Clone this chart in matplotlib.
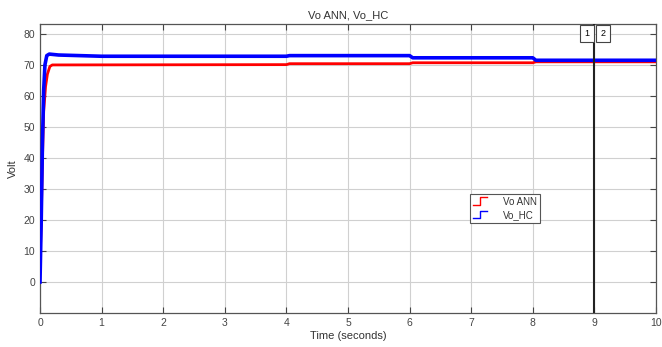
import matplotlib
matplotlib.use("Agg")
import matplotlib.pyplot as plt
from matplotlib.lines import Line2D
from matplotlib.legend_handler import HandlerBase

plt.rcParams['font.family'] = ['Liberation Sans Narrow', 'Liberation Sans', 'DejaVu Sans']

# Data
t_hc = [0, 0.02, 0.04, 0.06, 0.08, 0.11, 0.15, 0.3, 1.0, 4.0, 4.05, 6.0, 6.05, 8.0, 8.05, 10.0]
vo_hc = [0, 20, 45, 62, 70, 73, 73.5, 73.2, 72.8, 72.8, 73.0, 73.0, 72.3, 72.3, 71.5, 71.5]
t_ann = [0, 0.02, 0.04, 0.06, 0.09, 0.12, 0.16, 0.2, 4.0, 4.05, 6.0, 6.05, 8.0, 8.05, 10.0]
vo_ann = [5, 20, 40, 55, 63, 67, 69.5, 70, 70.1, 70.4, 70.4, 70.7, 70.7, 71.0, 71.0]
cursor_t = 9
xticks = list(range(0, 11))
yticks = list(range(0, 81, 10))

fig = plt.figure(figsize=(6.62, 3.47), dpi=100)
ax = fig.add_axes([40/662, 1-313/347, 616/662, 289/347])

ax.plot(t_ann, vo_ann, color='#ff0000', lw=2.0, label='Vo ANN', zorder=3)
ax.plot(t_hc, vo_hc, color='#0000ff', lw=2.6, label='Vo_HC', zorder=3)

ax.set_xlim(0, 10)
ax.set_ylim(-10, 83.2)
ax.set_xticks(xticks)
ax.set_yticks(yticks)
ax.grid(True, color='#d0d0d0', lw=0.8)
ax.tick_params(direction='in', top=True, right=True, labelsize=7.5, colors='#444444',
               length=4, labelcolor='#444444')
for s in ax.spines.values():
    s.set_color('#555555')
    s.set_linewidth(0.9)

ax.set_title('Vo ANN, Vo_HC', fontsize=8, color='#333333', pad=4)
ax.set_xlabel('Time (seconds)', fontsize=8, color='#333333', labelpad=2)
ax.set_ylabel('Volt', fontsize=8, color='#333333', labelpad=4)

# cursor
ax.axvline(cursor_t, color='#222222', lw=1.5, zorder=4)
ax.text(cursor_t - 0.12, 80.0, '1', ha='center', va='center', fontsize=6.5,
        bbox=dict(boxstyle='square,pad=0.45', fc='white', ec='#444444', lw=0.8), zorder=5)
ax.text(cursor_t + 0.14, 80.0, '2', ha='center', va='center', fontsize=6.5,
        bbox=dict(boxstyle='square,pad=0.45', fc='white', ec='#444444', lw=0.8), zorder=5)


class StepHandler(HandlerBase):
    def create_artists(self, legend, orig_handle, xdescent, ydescent, width, height,
                       fontsize, trans):
        x0 = -xdescent
        xs = [x0, x0 + width * 0.5, x0 + width * 0.5, x0 + width]
        ys = [-ydescent, -ydescent, -ydescent + height, -ydescent + height]
        ln = Line2D(xs, ys, color=orig_handle.get_color(), lw=1.0, transform=trans)
        return [ln]


handles, labels = ax.get_legend_handles_labels()
leg = ax.legend(handles, labels, handler_map={Line2D: StepHandler()},
                loc='upper left', bbox_to_anchor=(0.69, 0.43), fontsize=7,
                frameon=True, fancybox=False, edgecolor='#555555', framealpha=1,
                handlelength=1.5, handleheight=0.8, handletextpad=1.6,
                borderpad=0.3, labelspacing=0.35)
leg.get_frame().set_linewidth(0.8)
for txt in leg.get_texts():
    txt.set_color('#333333')

fig.savefig('out.png', dpi=100)
